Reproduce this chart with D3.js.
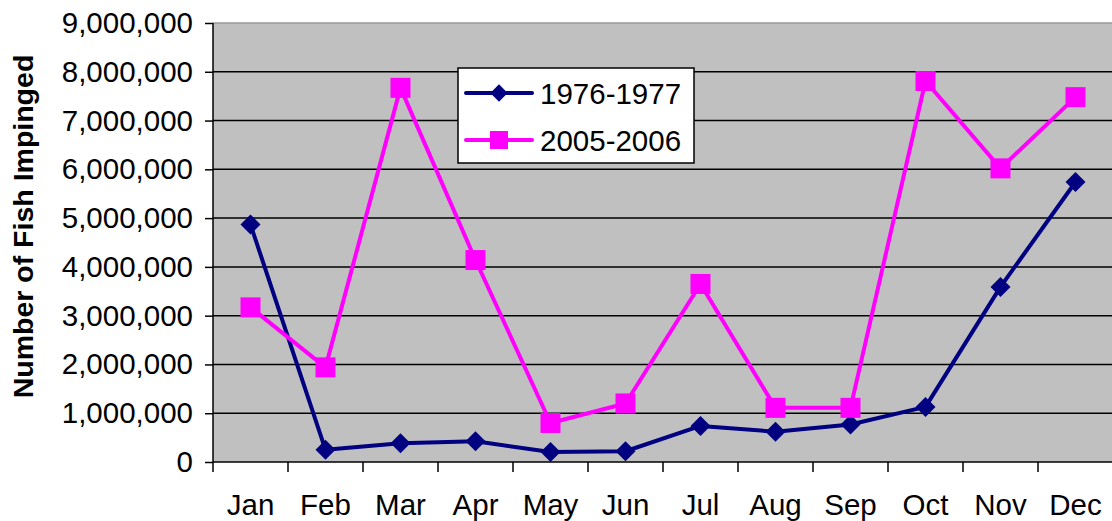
<!DOCTYPE html>
<html><head><meta charset="utf-8">
<script src="https://cdn.jsdelivr.net/npm/d3@7"></script>
<style>body{margin:0;background:#fff}svg{display:block}text{font-family:"Liberation Sans",Arial,sans-serif}</style>
</head><body>
<svg id="c" width="1112" height="521"></svg>
<script>
const months = ["Jan","Feb","Mar","Apr","May","Jun","Jul","Aug","Sep","Oct","Nov","Dec"];
const series1976 = [4870000,250000,385000,425000,205000,220000,740000,620000,770000,1130000,3590000,5740000];
const series2005 = [3170000,1940000,7670000,4140000,800000,1200000,3650000,1110000,1110000,7810000,6020000,7480000];
const yTicks = [0,1000000,2000000,3000000,4000000,5000000,6000000,7000000,8000000,9000000];
const seriesNames = ["1976-1977","2005-2006"];
const colors = ["#000080","#FF00FF"];

const svg = d3.select("#c");
const L = 213, R = 1113, T = 23, B = 462;
const x = d3.scaleBand().domain(months).range([L, R]).padding(0);
const y = d3.scaleLinear().domain([0, 9000000]).range([B, T]);
const fs = 29.5;

svg.append("rect").attr("x", L).attr("y", T).attr("width", R - L).attr("height", B - T).attr("fill", "#C0C0C0");
svg.append("line").attr("x1", L).attr("x2", R).attr("y1", T).attr("y2", T).attr("stroke", "#9a9a9a").attr("stroke-width", 1.5);

// gridlines
svg.append("g").selectAll("line").data(yTicks.filter(d => d > 0 && d < 9000000)).join("line")
  .attr("x1", L).attr("x2", R).attr("y1", d => y(d)).attr("y2", d => y(d))
  .attr("stroke", "#000").attr("stroke-width", 1.5);

// y axis
const yAxis = svg.append("g").attr("transform", `translate(${L},0)`)
  .call(d3.axisLeft(y).tickValues(yTicks).tickSize(8).tickPadding(12).tickFormat(d3.format(",")));
yAxis.selectAll("text").attr("font-size", fs).attr("fill", "#000").attr("font-family", '"Liberation Sans",Arial,sans-serif');
yAxis.selectAll("line").attr("stroke", "#000").attr("stroke-width", 1.5);
yAxis.select(".domain").attr("stroke", "#000").attr("stroke-width", 1.5).attr("d", `M0,${T}V${B}`);

// x axis
const xAxis = svg.append("g").attr("transform", `translate(0,${B})`)
  .call(d3.axisBottom(x).tickSize(0).tickPadding(0));
xAxis.select(".domain").attr("stroke", "#000").attr("stroke-width", 1.5).attr("d", `M${L},0H${R}`);
xAxis.selectAll(".tick text").attr("font-size", fs).attr("fill", "#000").attr("dy", 0).attr("y", 53)
  .attr("font-family", '"Liberation Sans",Arial,sans-serif');
// category boundary ticks
svg.append("g").selectAll("line").data(months).join("line")
  .attr("x1", d => x(d)).attr("x2", d => x(d)).attr("y1", B).attr("y2", B + 10)
  .attr("stroke", "#000").attr("stroke-width", 1.5);

// y title
svg.append("text").attr("transform", `translate(33,${(T + B) / 2 - 16}) rotate(-90)`)
  .attr("text-anchor", "middle").attr("font-size", 28.5).attr("font-weight", "bold").text("Number of Fish Impinged");

const cx = d => x(d) + x.bandwidth() / 2;
const line = d3.line().x(d => cx(d.m)).y(d => y(d.v));
const data = [series1976, series2005].map(s => s.map((v, i) => ({m: months[i], v})));

data.forEach((s, k) => {
  svg.append("path").datum(s).attr("d", line).attr("fill", "none")
    .attr("stroke", colors[k]).attr("stroke-width", 4).attr("stroke-linejoin", "round");
});
// diamonds
svg.append("g").selectAll("path").data(data[0]).join("path")
  .attr("d", d3.symbol(d3.symbolSquare, 200))
  .attr("transform", d => `translate(${cx(d.m)},${y(d.v)}) rotate(45)`).attr("fill", colors[0]);
// squares
svg.append("g").selectAll("rect").data(data[1]).join("rect")
  .attr("x", d => cx(d.m) - 10).attr("y", d => y(d.v) - 10).attr("width", 20).attr("height", 20).attr("fill", colors[1]);

// legend
const lg = svg.append("g");
lg.append("rect").attr("x", 458).attr("y", 68).attr("width", 236).attr("height", 95)
  .attr("fill", "#fff").attr("stroke", "#000").attr("stroke-width", 1.5);
const rows = [93, 140];
seriesNames.forEach((n, k) => {
  const ry = rows[k];
  lg.append("line").attr("x1", 466).attr("x2", 532).attr("y1", ry).attr("y2", ry)
    .attr("stroke", colors[k]).attr("stroke-width", 4).attr("stroke-linecap", "round");
  if (k === 0) {
    lg.append("path").attr("d", d3.symbol(d3.symbolSquare, 150))
      .attr("transform", `translate(499,${ry}) rotate(45)`).attr("fill", colors[0]);
  } else {
    lg.append("rect").attr("x", 490).attr("y", ry - 9).attr("width", 18).attr("height", 18).attr("fill", colors[1]);
  }
  lg.append("text").attr("x", 540).attr("y", ry + 10.5).attr("font-size", fs).text(n);
});
</script>
</body></html>
